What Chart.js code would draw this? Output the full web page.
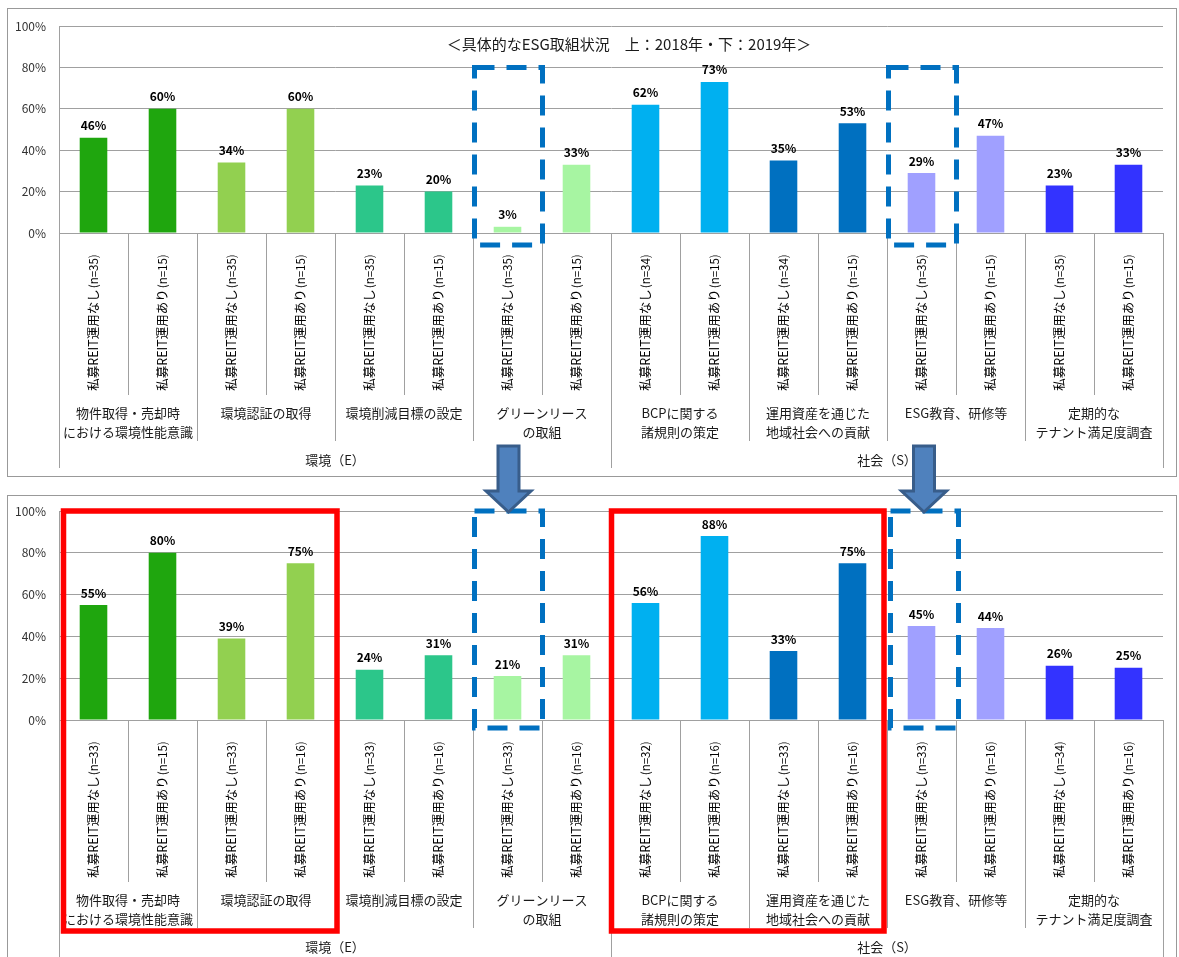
<!DOCTYPE html>
<html>
<head>
<meta charset="utf-8">
<script src="https://cdn.jsdelivr.net/npm/chart.js@4.4.1/dist/chart.umd.min.js"></script>
<style>
  body { margin: 0; background: #fff; }
  #wrap { position: relative; width: 1179px; height: 957px; overflow: hidden; }
  canvas { position: absolute; left: 0; }
  #c2018 { top: 0; }
  #c2019 { top: 440px; }
</style>
</head>
<body>
<div id="wrap">
  <canvas id="c2018" width="1179" height="480"></canvas>
  <canvas id="c2019" width="1179" height="517"></canvas>
</div>
<script>
// ESG initiatives: share of private REITs, 2018 (upper) and 2019 (lower)
const groupLabels = [
  ['物件取得・売却時', 'における環境性能意識'],
  ['環境認証の取得'],
  ['環境削減目標の設定'],
  ['グリーンリース', 'の取組'],
  ['BCPに関する', '諸規則の策定'],
  ['運用資産を通じた', '地域社会への貢献'],
  ['ESG教育、研修等'],
  ['定期的な', 'テナント満足度調査']
];
const areaLabels = ['環境（E）', '社会（S）'];
const groupColors = ['#1FA60E', '#92D050', '#2CC68A', '#A7F5A2', '#00B0F0', '#0070C0', '#A0A0FF', '#3333FF'];

const n2018 = [35, 15, 35, 15, 35, 15, 35, 15, 34, 15, 34, 15, 35, 15, 35, 15];
const pct2018 = [46, 60, 34, 60, 23, 20, 3, 33, 62, 73, 35, 53, 29, 47, 23, 33];

const n2019 = [33, 15, 33, 16, 33, 16, 33, 16, 32, 16, 33, 16, 33, 16, 34, 16];
const pct2019 = [55, 80, 39, 75, 24, 31, 21, 31, 56, 88, 33, 75, 45, 44, 26, 25];

const yTicks = [0, 20, 40, 60, 80, 100];

const FONT = "'Noto Sans CJK JP', 'Noto Sans', sans-serif";
const GRID = '#A0A0A0';
const TEXT = '#1a1a1a';

Chart.defaults.font.family = FONT;

function catLabels(ns) {
  return ns.map((n, i) => '私募REIT運用' + (i % 2 === 0 ? 'なし' : 'あり') + '(n=' + n + ')');
}

function barColors() {
  const out = [];
  groupColors.forEach(c => { out.push(c, c); });
  return out;
}

// rotated label: main part and the sample size in a slightly smaller face
function drawVertical(ctx, text, cx, cy) {
  const k = text.indexOf('(');
  const head = text.slice(0, k);
  const tail = text.slice(k);
  const f1 = '12.5px ' + FONT;
  const f2 = '11.5px ' + FONT;
  ctx.font = f1;
  const w1 = ctx.measureText(head).width;
  ctx.font = f2;
  const w2 = ctx.measureText(tail).width;
  ctx.save();
  ctx.translate(cx, cy);
  ctx.rotate(-Math.PI / 2);
  ctx.textAlign = 'left';
  ctx.textBaseline = 'middle';
  const x0 = -(w1 + w2) / 2;
  ctx.font = f1;
  ctx.fillText(head, x0, 0);
  ctx.font = f2;
  ctx.fillText(tail, x0 + w1 + 1, 0);
  ctx.restore();
}

function decorPlugin(cfg) {
  return {
    id: 'decor',
    beforeDraw(chart) {
      const ctx = chart.ctx;
      ctx.save();
      ctx.strokeStyle = '#999';
      ctx.lineWidth = 1;
      ctx.strokeRect(7.5, cfg.frameTop + 0.5, 1169, cfg.frameHeight);
      ctx.restore();
    },
    afterDraw(chart) {
      const ctx = chart.ctx;
      const a = chart.chartArea;
      const x = chart.scales.x;
      const y = chart.scales.y;
      const step = x.getPixelForValue(1) - x.getPixelForValue(0);
      const edge = i => x.getPixelForValue(i) - step / 2;

      ctx.save();

      // separators under the axis: category, group, area
      ctx.strokeStyle = GRID;
      ctx.lineWidth = 1;
      for (let i = 0; i <= 16; i++) {
        let len = 162;
        if (i % 2 === 0) len = 208;
        if (i % 8 === 0) len = cfg.outerLen;
        const px = Math.round(edge(i)) + 0.5;
        ctx.beginPath();
        ctx.moveTo(px, a.bottom);
        ctx.lineTo(px, a.bottom + len);
        ctx.stroke();
      }

      // vertical category labels
      ctx.fillStyle = '#000';
      chart.data.labels.forEach((lab, i) => {
        drawVertical(ctx, lab, x.getPixelForValue(i), a.bottom + 90);
      });

      // group labels
      ctx.fillStyle = TEXT;
      ctx.font = '13px ' + FONT;
      ctx.textAlign = 'center';
      ctx.textBaseline = 'middle';
      groupLabels.forEach((lines, g) => {
        const cx = (edge(2 * g) + edge(2 * g + 2)) / 2;
        lines.forEach((t, k) => ctx.fillText(t, cx, a.bottom + 180 + k * 19));
      });
      areaLabels.forEach((t, k) => {
        const cx = (edge(8 * k) + edge(8 * k + 8)) / 2;
        ctx.fillText(t, cx, a.bottom + 227);
      });

      // value labels
      ctx.font = 'bold 12px ' + FONT;
      ctx.fillStyle = '#000';
      ctx.textBaseline = 'bottom';
      const meta = chart.getDatasetMeta(0);
      meta.data.forEach((bar, i) => {
        ctx.fillText(chart.data.datasets[0].data[i] + '%', bar.x, bar.y - 6);
      });

      // title
      if (cfg.title) {
        ctx.font = '15px ' + FONT;
        ctx.fillStyle = TEXT;
        ctx.textBaseline = 'middle';
        ctx.fillText(cfg.title, 629, a.top + 18);
      }

      // dashed highlight boxes
      ctx.strokeStyle = '#0070C0';
      ctx.lineWidth = 5;
      ctx.setLineDash([20, 12]);
      cfg.dashed.forEach(b => {
        const cx = x.getPixelForValue(b.cat) + (b.dx || 0);
        const top = y.getPixelForValue(b.top);
        ctx.strokeRect(cx - 33, top, 68, a.bottom + b.below - top);
      });
      ctx.setLineDash([]);

      // solid red boxes
      ctx.strokeStyle = '#FF0000';
      ctx.lineWidth = 5.5;
      (cfg.red || []).forEach(b => {
        const l = edge(b.from) + b.dl;
        const r = edge(b.to) + b.dr;
        const top = y.getPixelForValue(100);
        ctx.strokeRect(l, top, r - l, a.bottom + 211 - top);
      });

      // down arrows from the upper chart
      ctx.fillStyle = '#4F81BD';
      ctx.strokeStyle = '#385D8A';
      ctx.lineWidth = 3;
      ctx.lineJoin = 'miter';
      (cfg.arrows || []).forEach(ar => {
        const cx = x.getPixelForValue(ar.cat) + ar.dx;
        const tip = a.top + 1;
        const base = tip - 21;
        const tail = tip - 66;
        ctx.beginPath();
        ctx.moveTo(cx - 10.5, tail);
        ctx.lineTo(cx + 10.5, tail);
        ctx.lineTo(cx + 10.5, base);
        ctx.lineTo(cx + 22.5, base);
        ctx.lineTo(cx, tip);
        ctx.lineTo(cx - 22.5, base);
        ctx.lineTo(cx - 10.5, base);
        ctx.closePath();
        ctx.fill();
        ctx.stroke();
      });

      ctx.restore();
    }
  };
}

function makeChart(id, labels, values, padTop, padBottom, cfg) {
  return new Chart(document.getElementById(id), {
    type: 'bar',
    data: {
      labels: labels,
      datasets: [{
        data: values,
        backgroundColor: barColors(),
        borderWidth: 0,
        barPercentage: 0.4,
        categoryPercentage: 1
      }]
    },
    plugins: [decorPlugin(cfg)],
    options: {
      responsive: false,
      animation: false,
      events: [],
      layout: { padding: { left: 0, right: 16, top: padTop, bottom: padBottom } },
      plugins: { legend: { display: false }, tooltip: { enabled: false } },
      scales: {
        x: { display: false },
        y: {
          min: 0,
          max: 100,
          afterFit: s => { s.width = 59; },
          afterBuildTicks: s => { s.ticks = yTicks.map(v => ({ value: v })); },
          ticks: {
            padding: 13,
            color: '#333',
            font: { size: 12 },
            callback: v => v + '%'
          },
          grid: { color: GRID, lineWidth: 1, drawTicks: false },
          border: { display: true, color: GRID }
        }
      }
    }
  });
}

makeChart('c2018', catLabels(n2018), pct2018, 26, 480 - 233, {
  frameTop: 8,
  frameHeight: 468,
  outerLen: 235,
  title: '＜具体的なESG取組状況　上：2018年・下：2019年＞',
  dashed: [{ cat: 6, top: 80, below: 12 }, { cat: 12, top: 80, below: 12 }]
});

makeChart('c2019', catLabels(n2019), pct2019, 71, 517 - 280, {
  frameTop: 55,
  frameHeight: 600,
  outerLen: 300,
  dashed: [{ cat: 6, top: 100, below: 8 }, { cat: 12, top: 100, below: 8, dx: 2 }],
  red: [{ from: 0, to: 4, dl: 4.5, dr: 2 }, { from: 8, to: 12, dl: 0.5, dr: -3 }],
  arrows: [{ cat: 6, dx: 1 }, { cat: 12, dx: 2.5 }]
});
</script>
</body>
</html>
